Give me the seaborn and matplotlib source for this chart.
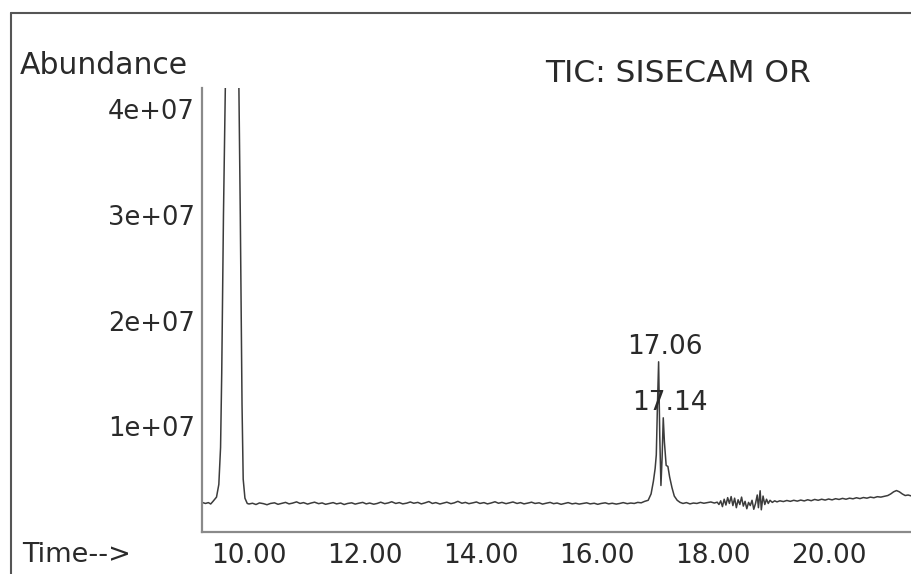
import matplotlib
matplotlib.use("Agg")
import matplotlib.pyplot as plt
import seaborn as sns
import pandas as pd
from matplotlib.lines import Line2D

# ---------------- data (time in min, abundance in units of 1e6) ----------------
time_main = [9.19, 9.25, 9.30, 9.34, 9.38, 9.44, 9.48, 9.51, 9.53, 9.56, 9.60,
             9.64, 9.71, 9.78, 9.82, 9.85, 9.88, 9.90, 9.93, 9.97]
abund_main = [2.80, 2.70, 2.78, 2.65, 2.90, 3.30, 4.50, 8.0, 15.0, 30.0, 45.0,
              65.0, 80.0, 65.0, 45.0, 30.0, 12.0, 5.0, 3.2, 2.7]

time_base = [10.00, 10.06, 10.12, 10.18, 10.25, 10.31, 10.37, 10.44, 10.50, 10.56,
             10.63, 10.69, 10.75, 10.82, 10.88, 10.94, 11.01, 11.07, 11.13, 11.20,
             11.26, 11.32, 11.39, 11.45, 11.51, 11.58, 11.64, 11.70, 11.77, 11.83,
             11.89, 11.96, 12.02, 12.08, 12.15, 12.21, 12.27, 12.34, 12.40, 12.46,
             12.53, 12.59, 12.65, 12.72, 12.78, 12.84, 12.91, 12.97, 13.03, 13.10,
             13.16, 13.22, 13.29, 13.35, 13.41, 13.48, 13.54, 13.60, 13.67, 13.73,
             13.79, 13.86, 13.92, 13.98, 14.05, 14.11, 14.17, 14.24, 14.30, 14.36,
             14.43, 14.49, 14.55, 14.62, 14.68, 14.74, 14.81, 14.87, 14.93, 15.00,
             15.06, 15.12, 15.19, 15.25, 15.31, 15.38, 15.44, 15.50, 15.57, 15.63,
             15.69, 15.76, 15.82, 15.88, 15.95, 16.01, 16.07, 16.14, 16.20, 16.26,
             16.33, 16.39, 16.45, 16.52, 16.58, 16.64, 16.70, 16.76, 16.82]
abund_base = [2.65, 2.72, 2.60, 2.75, 2.68, 2.58, 2.70, 2.76, 2.62, 2.70,
              2.80, 2.66, 2.73, 2.85, 2.70, 2.78, 2.64, 2.74, 2.82, 2.68,
              2.75, 2.62, 2.71, 2.78, 2.66, 2.74, 2.60, 2.70, 2.76, 2.64,
              2.72, 2.80, 2.66, 2.74, 2.63, 2.70, 2.82, 2.68, 2.75, 2.86,
              2.70, 2.78, 2.66, 2.73, 2.84, 2.72, 2.80, 2.66, 2.75, 2.88,
              2.70, 2.78, 2.65, 2.74, 2.82, 2.68, 2.76, 2.90, 2.72, 2.80,
              2.68, 2.76, 2.84, 2.70, 2.78, 2.66, 2.74, 2.86, 2.72, 2.80,
              2.68, 2.76, 2.84, 2.70, 2.78, 2.66, 2.74, 2.82, 2.70, 2.76,
              2.64, 2.72, 2.80, 2.68, 2.74, 2.62, 2.70, 2.78, 2.66, 2.72,
              2.64, 2.70, 2.76, 2.66, 2.72, 2.62, 2.70, 2.76, 2.66, 2.72,
              2.64, 2.70, 2.78, 2.68, 2.74, 2.70, 2.80, 2.76, 2.90]

time_pk = [16.88, 16.93, 16.97, 17.00, 17.02, 17.04, 17.06, 17.08, 17.10, 17.12,
           17.14, 17.16, 17.19, 17.22, 17.25, 17.29, 17.33, 17.38, 17.43, 17.48]
abund_pk = [3.00, 3.60, 4.80, 6.00, 7.30, 12.0, 16.1, 9.0, 4.4, 7.0,
            10.8, 8.5, 6.3, 6.2, 5.2, 4.2, 3.4, 3.0, 2.8, 2.7]

time_tail = [17.54, 17.60, 17.66, 17.72, 17.78, 17.84, 17.90, 17.96, 18.02, 18.07,
             18.10, 18.13, 18.16, 18.19, 18.22, 18.25, 18.28, 18.31, 18.34, 18.37,
             18.40, 18.43, 18.46, 18.49, 18.52, 18.55, 18.58, 18.61, 18.64, 18.67,
             18.70, 18.73, 18.76, 18.78, 18.81, 18.83, 18.86, 18.89, 18.92, 18.95,
             18.98, 19.02, 19.06, 19.10, 19.15, 19.21, 19.27, 19.33, 19.39, 19.45,
             19.51, 19.57, 19.63, 19.69, 19.75, 19.81, 19.87, 19.93, 19.99, 20.05,
             20.11, 20.17, 20.23, 20.29, 20.35, 20.41, 20.47, 20.53, 20.59, 20.65,
             20.71, 20.77, 20.83, 20.89, 20.95, 21.01, 21.06, 21.11, 21.16, 21.21,
             21.26, 21.31, 21.36, 21.41]
abund_tail = [2.78, 2.66, 2.74, 2.70, 2.80, 2.72, 2.78, 2.84, 2.74, 2.82,
              2.60, 2.95, 2.40, 3.10, 2.55, 3.25, 2.70, 3.35, 2.50, 3.20,
              2.30, 3.05, 2.60, 3.30, 2.45, 2.90, 2.20, 2.80, 2.50, 3.00,
              2.15, 2.70, 3.50, 2.30, 3.90, 2.10, 3.40, 2.60, 3.10, 2.70,
              3.00, 2.80, 2.95, 2.85, 2.95, 2.88, 2.98, 2.90, 3.00, 2.92,
              3.02, 2.94, 3.05, 2.96, 3.08, 3.00, 3.10, 3.02, 3.12, 3.04,
              3.15, 3.08, 3.18, 3.10, 3.20, 3.14, 3.24, 3.16, 3.26, 3.20,
              3.30, 3.24, 3.34, 3.30, 3.38, 3.45, 3.60, 3.80, 3.92, 3.80,
              3.60, 3.45, 3.50, 3.42]

x_ticks = [10, 12, 14, 16, 18, 20]
x_tick_labels = ["10.00", "12.00", "14.00", "16.00", "18.00", "20.00"]
y_ticks = [1e7, 2e7, 3e7, 4e7]
y_tick_labels = ["1e+07", "2e+07", "3e+07", "4e+07"]
peak_labels = [("17.06", 17.06, 1.61e7), ("17.14", 17.14, 1.08e7)]

# ---------------- build table ----------------
times = time_main + time_base + time_pk + time_tail
abund = [v * 1e6 for v in (abund_main + abund_base + abund_pk + abund_tail)]
df = pd.DataFrame({"time": times, "abundance": abund})

sns.set_theme(style="white")
plt.rcParams["font.family"] = ["DejaVu Sans"]

W, H = 911, 574
fig = plt.figure(figsize=(W / 100, H / 100), dpi=100)
fig.patch.set_facecolor("white")

left, right, bottom, top = 202, 911, 532, 88
ax = fig.add_axes([left / W, 1 - bottom / H, (right - left) / W, (bottom - top) / H])

sns.lineplot(data=df, x="time", y="abundance", ax=ax, estimator=None, sort=False,
             color="#3c3c3c", linewidth=1.1)

ax.set_xlim(9.19, 21.41)
ax.set_ylim(0, 4.2e7)
ax.set_xlabel("")
ax.set_ylabel("")
ax.set_xticks(x_ticks)
ax.set_xticklabels(x_tick_labels, fontsize=19, color="#2a2a2a")
ax.set_yticks(y_ticks)
ax.set_yticklabels(y_tick_labels, fontsize=18.5, color="#2a2a2a")
ax.tick_params(axis="x", length=0, pad=8)
ax.tick_params(axis="y", length=0, pad=5)

for s in ["top", "right"]:
    ax.spines[s].set_visible(False)
for s in ["left", "bottom"]:
    ax.spines[s].set_color("#8a8a8a")
    ax.spines[s].set_linewidth(1.6)

# peak annotations
for txt, px, py in peak_labels:
    ax.text(px + 0.11, py + 0.02e7, txt, ha="center", va="bottom",
            fontsize=19, color="#2a2a2a")

# texts in figure pixel positions
fig.text(20 / W, 1 - 66 / H, "Abundance", ha="left", va="center",
         fontsize=21.5, color="#2a2a2a")
fig.text(545 / W, 1 - 73 / H, "TIC: SISECAM OR", ha="left", va="center",
         fontsize=22.5, color="#2a2a2a")
fig.text(22 / W, 1 - 555 / H, "Time-->", ha="left", va="center",
         fontsize=19.5, color="#2a2a2a")

# outer frame
fig.add_artist(Line2D([11 / W, 11 / W], [0, 1 - 13 / H], transform=fig.transFigure,
                      color="#555555", linewidth=1.5))
fig.add_artist(Line2D([11 / W, 1], [1 - 13 / H, 1 - 13 / H], transform=fig.transFigure,
                      color="#555555", linewidth=1.5))

fig.savefig("out.png", dpi=100, facecolor="white")
